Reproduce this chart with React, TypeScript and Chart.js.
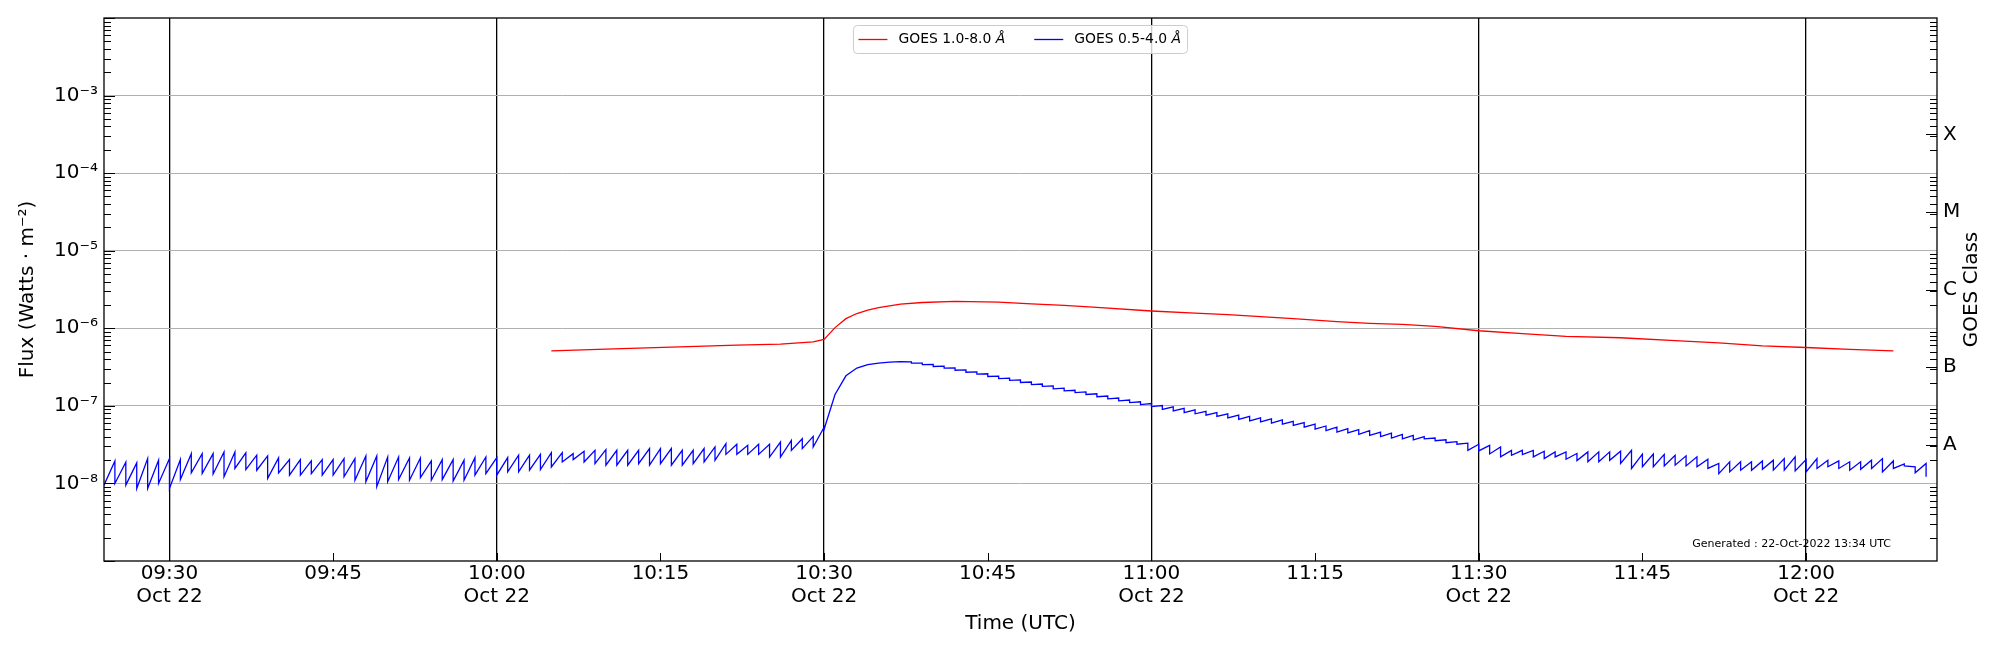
import React, { useEffect, useRef } from 'react';
import { Chart, registerables } from 'chart.js';

Chart.register(...registerables);

// x axis: minutes of the day
const axisStart = '09:24';
const axisEnd = '12:12';
const xTickTimes = ['09:30', '09:45', '10:00', '10:15', '10:30', '10:45', '11:00', '11:15', '11:30', '11:45', '12:00'];
const dateLabel = 'Oct 22';

// y axis
const fluxTicks = [1e-8, 1e-7, 1e-6, 1e-5, 1e-4, 1e-3];
const goesLevels = [3.16e-8, 3.16e-7, 3.16e-6, 3.16e-5, 3.16e-4];
const goesLabels = ['A', 'B', 'C', 'M', 'X'];

const seriesNames = ['GOES 1.0-8.0', 'GOES 0.5-4.0'];
const seriesColors = ['#ff0000', '#0000ff'];

// GOES 1.0-8.0 A (long channel)
const xrslTimes = [
  '10:05', '10:10', '10:16', '10:22', '10:26', '10:29', '10:30', '10:31', '10:32', '10:33',
  '10:34', '10:35', '10:37', '10:39', '10:42', '10:46', '10:49', '10:52', '10:55', '11:00',
  '11:04', '11:07', '11:10', '11:13', '11:17', '11:20', '11:23', '11:26', '11:30', '11:34',
  '11:38', '11:43', '11:48', '11:52', '11:56', '12:00', '12:04', '12:08',
];
const xrslFlux = [
  5.12e-7, 5.38e-7, 5.7e-7, 6.05e-7, 6.25e-7, 6.7e-7, 7.2e-7, 1.02e-6, 1.33e-6, 1.55e-6,
  1.72e-6, 1.85e-6, 2.05e-6, 2.15e-6, 2.22e-6, 2.17e-6, 2.07e-6, 1.97e-6, 1.86e-6, 1.67e-6,
  1.57e-6, 1.5e-6, 1.41e-6, 1.33e-6, 1.22e-6, 1.16e-6, 1.12e-6, 1.06e-6, 9.3e-7, 8.55e-7,
  7.85e-7, 7.55e-7, 6.95e-7, 6.5e-7, 5.95e-7, 5.65e-7, 5.35e-7, 5.12e-7,
];

// GOES 0.5-4.0 A (short channel), one sawtooth per minute from 09:24:
// value at the start of the minute and at its end
const xrsbFirst = '09:24';
const xrsbStart = [
  9.5e-9, 1.0e-8, 9.5e-9, 8.6e-9, 8.6e-9, 1.0e-8, 8.6e-9, 1.12e-8, 1.37e-8, 1.34e-8,
  1.32e-8, 1.22e-8, 1.56e-8, 1.51e-8, 1.48e-8, 1.16e-8, 1.37e-8, 1.28e-8, 1.28e-8, 1.34e-8,
  1.28e-8, 1.28e-8, 1.22e-8, 1.1e-8, 1.05e-8, 9.1e-9, 1.05e-8, 1.12e-8, 1.1e-8, 1.19e-8,
  1.1e-8, 1.12e-8, 1.07e-8, 1.1e-8, 1.28e-8, 1.34e-8, 1.28e-8, 1.41e-8, 1.41e-8, 1.48e-8,
  1.51e-8, 1.63e-8, 1.89e-8, 2.03e-8, 1.89e-8, 1.8e-8, 1.72e-8, 1.72e-8, 1.72e-8, 1.8e-8,
  1.72e-8, 1.8e-8, 1.72e-8, 1.72e-8, 1.8e-8, 1.89e-8, 1.99e-8, 2.37e-8, 2.37e-8, 2.37e-8,
  2.37e-8, 2.19e-8, 2.19e-8, 2.67e-8, 2.81e-8, 2.95e-8, 5.0e-8, 1.4e-7, 2.44e-7, 3.07e-7,
  3.39e-7, 3.56e-7, 3.66e-7, 3.72e-7, 3.55e-7, 3.4e-7, 3.22e-7, 3.06e-7, 2.88e-7, 2.71e-7,
  2.56e-7, 2.39e-7, 2.25e-7, 2.13e-7, 2.0e-7, 1.88e-7, 1.78e-7, 1.66e-7, 1.56e-7, 1.48e-7,
  1.4e-7, 1.31e-7, 1.23e-7, 1.16e-7, 1.1e-7, 1.04e-7, 9.8e-8, 9.0e-8, 8.6e-8, 8.2e-8,
  7.9e-8, 7.6e-8, 7.3e-8, 7.0e-8, 6.7e-8, 6.4e-8, 6.2e-8, 6.0e-8, 5.8e-8, 5.6e-8,
  5.3e-8, 5.0e-8, 4.8e-8, 4.6e-8, 4.5e-8, 4.3e-8, 4.15e-8, 4.0e-8, 3.85e-8, 3.75e-8,
  3.65e-8, 3.75e-8, 3.55e-8, 3.35e-8, 3.2e-8, 2.67e-8, 2.63e-8, 2.4e-8, 2.2e-8, 2.31e-8,
  2.35e-8, 2.2e-8, 2.09e-8, 2.2e-8, 2.05e-8, 1.97e-8, 1.9e-8, 1.9e-8, 1.99e-8, 1.81e-8,
  1.56e-8, 1.64e-8, 1.64e-8, 1.68e-8, 1.72e-8, 1.68e-8, 1.64e-8, 1.56e-8, 1.34e-8, 1.41e-8,
  1.48e-8, 1.48e-8, 1.52e-8, 1.48e-8, 1.48e-8, 1.45e-8, 1.41e-8, 1.56e-8, 1.64e-8, 1.56e-8,
  1.48e-8, 1.52e-8, 1.56e-8, 1.41e-8, 1.56e-8, 1.68e-8, 1.37e-8,
];
const xrsbEnd = [
  1.95e-8, 1.88e-8, 1.84e-8, 2.09e-8, 1.99e-8, 2.09e-8, 2.03e-8, 2.42e-8, 2.42e-8, 2.42e-8,
  2.54e-8, 2.54e-8, 2.48e-8, 2.31e-8, 2.26e-8, 2.13e-8, 2.03e-8, 2.03e-8, 1.95e-8, 2.03e-8,
  2.03e-8, 2.09e-8, 2.09e-8, 2.26e-8, 2.26e-8, 2.19e-8, 2.19e-8, 2.13e-8, 2.13e-8, 1.95e-8,
  2.03e-8, 2.03e-8, 1.99e-8, 2.15e-8, 2.19e-8, 2.15e-8, 2.15e-8, 2.31e-8, 2.31e-8, 2.37e-8,
  2.49e-8, 2.49e-8, 2.42e-8, 2.6e-8, 2.67e-8, 2.73e-8, 2.67e-8, 2.67e-8, 2.67e-8, 2.81e-8,
  2.81e-8, 2.81e-8, 2.67e-8, 2.67e-8, 2.81e-8, 2.95e-8, 3.25e-8, 3.19e-8, 3.1e-8, 3.19e-8,
  3.2e-8, 3.41e-8, 3.59e-8, 3.77e-8, 4.04e-8, 5.3e-8, 1.4e-7, 2.44e-7, 3.07e-7, 3.39e-7,
  3.56e-7, 3.66e-7, 3.72e-7, 3.7e-7, 3.56e-7, 3.42e-7, 3.25e-7, 3.09e-7, 2.91e-7, 2.74e-7,
  2.59e-7, 2.42e-7, 2.28e-7, 2.16e-7, 2.03e-7, 1.91e-7, 1.81e-7, 1.69e-7, 1.59e-7, 1.51e-7,
  1.43e-7, 1.34e-7, 1.26e-7, 1.19e-7, 1.13e-7, 1.07e-7, 1.01e-7, 9.7e-8, 9.3e-8, 8.9e-8,
  8.5e-8, 8.2e-8, 7.9e-8, 7.6e-8, 7.3e-8, 7.0e-8, 6.8e-8, 6.6e-8, 6.3e-8, 6.1e-8,
  5.8e-8, 5.5e-8, 5.3e-8, 5.1e-8, 4.95e-8, 4.8e-8, 4.6e-8, 4.45e-8, 4.3e-8, 4.15e-8,
  4.0e-8, 3.85e-8, 3.65e-8, 3.45e-8, 3.3e-8, 3.2e-8, 3.1e-8, 2.95e-8, 2.67e-8, 2.67e-8,
  2.67e-8, 2.6e-8, 2.55e-8, 2.55e-8, 2.43e-8, 2.55e-8, 2.55e-8, 2.55e-8, 2.6e-8, 2.67e-8,
  2.39e-8, 2.39e-8, 2.37e-8, 2.31e-8, 2.27e-8, 2.2e-8, 2.05e-8, 1.81e-8, 1.9e-8, 1.9e-8,
  1.9e-8, 1.95e-8, 1.99e-8, 2.09e-8, 2.2e-8, 2.03e-8, 2.09e-8, 1.99e-8, 1.95e-8, 1.9e-8,
  1.9e-8, 1.99e-8, 2.09e-8, 1.95e-8, 1.78e-8, 1.64e-8, 1.81e-8,
];
const xrsbLast = 1.22e-8;

const generatedText = 'Generated : 22-Oct-2022 13:34 UTC';

const FONT = '"DejaVu Sans", "Liberation Sans", sans-serif';

const toMinutes = (s: string) => {
  const [h, m] = s.split(':').map(Number);
  return h * 60 + m;
};

const pad2 = (n: number) => String(n).padStart(2, '0');

const SUP: Record<string, string> = {
  '0': '⁰', '1': '¹', '2': '²', '3': '³', '4': '⁴', '5': '⁵', '6': '⁶', '7': '⁷', '8': '⁸', '9': '⁹', '-': '⁻',
};
const powerLabel = (v: number) => '10' + String(Math.round(Math.log10(v))).split('').map((c) => SUP[c]).join('');

const goesDecor = {
  id: 'goesDecor',
  afterDraw(chart: any) {
    const { ctx, chartArea, scales } = chart;
    const { left, right, top, bottom } = chartArea;
    const y = scales.y;
    ctx.save();

    // inward ticks
    ctx.strokeStyle = '#000';
    ctx.lineWidth = 1;
    const hTick = (py: number, len: number, side: 'l' | 'r') => {
      const yy = Math.round(py) + 0.5;
      ctx.beginPath();
      if (side === 'l') {
        ctx.moveTo(left, yy);
        ctx.lineTo(left + len, yy);
      } else {
        ctx.moveTo(right, yy);
        ctx.lineTo(right - len, yy);
      }
      ctx.stroke();
    };
    for (let e = -9; e <= -2; e++) hTick(y.getPixelForValue(Math.pow(10, e)), 11, 'l');
    for (let e = -9; e <= -3; e++) {
      for (let k = 2; k <= 9; k++) {
        const py = y.getPixelForValue(k * Math.pow(10, e));
        hTick(py, 7, 'l');
        hTick(py, 7, 'r');
      }
    }
    goesLevels.forEach((v) => hTick(y.getPixelForValue(v), 11, 'r'));
    scales.x.ticks.forEach((t: any) => {
      const px = Math.round(scales.x.getPixelForValue(t.value)) + 0.5;
      ctx.beginPath();
      ctx.moveTo(px, bottom);
      ctx.lineTo(px, bottom - 8);
      ctx.stroke();
    });

    // frame
    ctx.lineWidth = 1.3;
    ctx.strokeRect(left, top, right - left, bottom - top);

    // right axis title
    ctx.fillStyle = '#000';
    ctx.font = `20px ${FONT}`;
    ctx.textAlign = 'center';
    ctx.textBaseline = 'middle';
    ctx.save();
    ctx.translate(right + 35, (top + bottom) / 2);
    ctx.rotate(-Math.PI / 2);
    ctx.fillText('GOES Class', 0, 0);
    ctx.restore();

    // generated stamp
    ctx.font = `11px ${FONT}`;
    ctx.textAlign = 'right';
    ctx.fillText(generatedText, right - 46, bottom - 16.5);

    // legend
    const normal = `13.9px ${FONT}`;
    const italic = `italic 13.9px ${FONT}`;
    ctx.font = normal;
    const widths = seriesNames.map((n) => {
      ctx.font = normal;
      const a = ctx.measureText(n + ' ').width;
      ctx.font = italic;
      return a + ctx.measureText('Å').width;
    });
    const lineLen = 29;
    const gap = 11;
    const between = 29;
    const total = 5 + widths.reduce((s: number, w: number) => s + lineLen + gap + w, 0) + between + 6.5;
    const bx = (left + right) / 2 - total / 2;
    const by = top + 7.5;
    const bh = 28;
    ctx.beginPath();
    ctx.roundRect(bx, by, total, bh, 4);
    ctx.fillStyle = 'rgba(255,255,255,0.8)';
    ctx.fill();
    ctx.strokeStyle = '#cccccc';
    ctx.lineWidth = 1;
    ctx.stroke();
    let cx = bx + 5;
    const cy = by + bh / 2;
    seriesNames.forEach((n, i) => {
      ctx.strokeStyle = seriesColors[i];
      ctx.lineWidth = 1.3;
      ctx.beginPath();
      ctx.moveTo(cx, cy);
      ctx.lineTo(cx + lineLen, cy);
      ctx.stroke();
      cx += lineLen + gap;
      ctx.fillStyle = '#000';
      ctx.textAlign = 'left';
      ctx.font = normal;
      const part = n + ' ';
      ctx.fillText(part, cx, cy);
      const pw = ctx.measureText(part).width;
      ctx.font = italic;
      ctx.fillText('Å', cx + pw, cy);
      cx += widths[i] + between;
    });

    ctx.restore();
  },
};

const GoesChart: React.FC = () => {
  const chartRef = useRef<HTMLCanvasElement | null>(null);

  useEffect(() => {
    const ctx = chartRef.current?.getContext('2d');
    if (!ctx) return;

    const t0 = toMinutes(xrsbFirst);
    const xrsbPoints: { x: number; y: number }[] = [];
    xrsbStart.forEach((v, i) => {
      xrsbPoints.push({ x: t0 + i, y: v });
      xrsbPoints.push({ x: t0 + i + 1, y: xrsbEnd[i] });
    });
    xrsbPoints.push({ x: t0 + xrsbStart.length, y: xrsbLast });

    const xrslPoints = xrslTimes.map((t, i) => ({ x: toMinutes(t), y: xrslFlux[i] }));

    const chartInstance = new Chart(ctx, {
      type: 'line',
      data: {
        datasets: [
          {
            label: seriesNames[0],
            data: xrslPoints,
            borderColor: seriesColors[0],
            borderWidth: 1.3,
            pointRadius: 0,
            tension: 0,
          },
          {
            label: seriesNames[1],
            data: xrsbPoints,
            borderColor: seriesColors[1],
            borderWidth: 1.3,
            pointRadius: 0,
            tension: 0,
          },
        ],
      },
      options: {
        animation: false,
        responsive: true,
        maintainAspectRatio: false,
        devicePixelRatio: 1,
        events: [],
        layout: { padding: { top: 15, left: 0, right: 0, bottom: 0 } },
        plugins: {
          legend: { display: false },
          tooltip: { enabled: false },
        },
        scales: {
          x: {
            type: 'linear',
            position: 'bottom',
            min: toMinutes(axisStart),
            max: toMinutes(axisEnd),
            afterBuildTicks: (scale: any) => {
              scale.ticks = xTickTimes.map((t) => ({ value: toMinutes(t) }));
            },
            afterFit: (scale: any) => {
              scale.height = 89;
            },
            ticks: {
              color: '#000',
              autoSkip: false,
              maxRotation: 0,
              padding: 1,
              font: { family: FONT, size: 20, lineHeight: 1.15 },
              callback: (v: any) => {
                const m = Number(v);
                const label = `${pad2(Math.floor(m / 60))}:${pad2(m % 60)}`;
                return m % 30 === 0 ? [label, dateLabel] : label;
              },
            },
            grid: {
              drawTicks: false,
              lineWidth: 1.3,
              color: (c: any) => (c.tick && c.tick.value % 30 === 0 ? '#000000' : 'rgba(0,0,0,0)'),
            },
            border: { display: false },
            title: {
              display: true,
              text: 'Time (UTC)',
              color: '#000',
              font: { family: FONT, size: 20 },
              padding: { top: 0, bottom: 14 },
            },
          },
          y: {
            type: 'logarithmic',
            position: 'left',
            min: 1e-9,
            max: 1e-2,
            afterBuildTicks: (scale: any) => {
              scale.ticks = fluxTicks.map((v) => ({ value: v }));
            },
            afterFit: (scale: any) => {
              scale.width = 104;
            },
            ticks: {
              color: '#000',
              padding: 6,
              font: { family: FONT, size: 20 },
              callback: (v: any) => powerLabel(Number(v)),
            },
            grid: { drawTicks: false, color: '#b0b0b0', lineWidth: 1 },
            border: { display: false },
            title: {
              display: true,
              text: 'Flux (Watts · m⁻²)',
              color: '#000',
              font: { family: FONT, size: 20 },
              padding: { top: 16, bottom: 0 },
            },
          },
          y2: {
            type: 'logarithmic',
            position: 'right',
            min: 1e-9,
            max: 1e-2,
            afterBuildTicks: (scale: any) => {
              scale.ticks = goesLevels.map((v) => ({ value: v }));
            },
            afterFit: (scale: any) => {
              scale.width = 63;
            },
            ticks: {
              color: '#000',
              padding: 6,
              font: { family: FONT, size: 20 },
              callback: (_v: any, i: number) => goesLabels[i],
            },
            grid: { display: false, drawTicks: false },
            border: { display: false },
          },
        },
      } as any,
      plugins: [goesDecor],
    });

    return () => {
      chartInstance.destroy();
    };
  }, []);

  return (
    <div style={{ position: 'absolute', left: 0, top: 0, width: 2000, height: 650, background: '#fff' }}>
      <canvas ref={chartRef} />
    </div>
  );
};

export default function App() {
  return <GoesChart />;
}
